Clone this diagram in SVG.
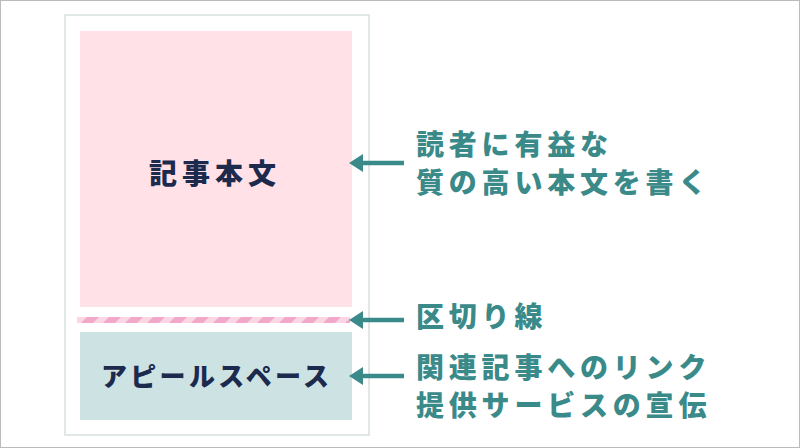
<svg xmlns="http://www.w3.org/2000/svg" width="800" height="448" viewBox="0 0 800 448">
  <defs>
    <style>
      .lbl { font-family: "Noto Sans CJK JP", "Noto Sans", sans-serif; font-weight: 900; fill: #3b8a8a; font-size: 28px; letter-spacing: 4.8px; }
      .inner { font-family: "Noto Sans CJK JP", "Noto Sans", sans-serif; font-weight: 900; fill: #1c2a4e; }
      .arrow { stroke: #3b8a8a; stroke-width: 4.5; fill: none; }
      .head { fill: #3b8a8a; }
    </style>
    <pattern id="stripes" x="77" y="317" width="22" height="6" patternUnits="userSpaceOnUse">
      <rect width="22" height="6" fill="#fcd6e2"/>
      <polygon points="4,6 10,0 22,0 16,6" fill="#f2a9c9"/>
      <polygon points="-18,6 -12,0 0,0 -6,6" fill="#f2a9c9"/>
      <polygon points="26,6 32,0 44,0 38,6" fill="#f2a9c9"/>
    </pattern>
  </defs>
  <rect x="0" y="0" width="800" height="448" fill="#ffffff"/>
  <rect x="0.5" y="0.5" width="799" height="447" fill="none" stroke="#bbbbbb" stroke-width="1"/>

  <g id="page">
    <rect x="65" y="15" width="304" height="420" fill="#ffffff" stroke="#e1e7e6" stroke-width="2"/>
  </g>

  <g id="body">
    <rect x="80" y="31" width="272" height="276" fill="#ffe1e7"/>
    <text class="inner" x="149" y="184" font-size="28" letter-spacing="5">記事本文</text>
  </g>

  <g id="divider">
    <rect x="77" y="317" width="273" height="6" fill="url(#stripes)"/>
  </g>

  <g id="appeal">
    <rect x="80" y="332" width="272" height="88" fill="#cde2e2"/>
    <text class="inner" x="101" y="386" font-size="26" letter-spacing="3.3">アピールスペース</text>
  </g>

  <g id="connectors">
    <line class="arrow" x1="362" y1="163" x2="404" y2="163"/>
    <polygon class="head" points="349,163 363,154 363,172"/>
    <line class="arrow" x1="362" y1="320" x2="404" y2="320"/>
    <polygon class="head" points="349,320 363,311 363,329"/>
    <line class="arrow" x1="362" y1="376" x2="404" y2="376"/>
    <polygon class="head" points="349,376 363,367 363,385"/>
  </g>

  <g id="label-body">
    <text class="lbl" x="416" y="155">読者に有益な</text>
    <text class="lbl" x="416" y="193">質の高い本文を書く</text>
  </g>
  <g id="label-divider">
    <text class="lbl" x="416" y="327">区切り線</text>
  </g>
  <g id="label-appeal">
    <text class="lbl" x="416" y="378">関連記事へのリンク</text>
    <text class="lbl" x="416" y="416">提供サービスの宣伝</text>
  </g>
</svg>
